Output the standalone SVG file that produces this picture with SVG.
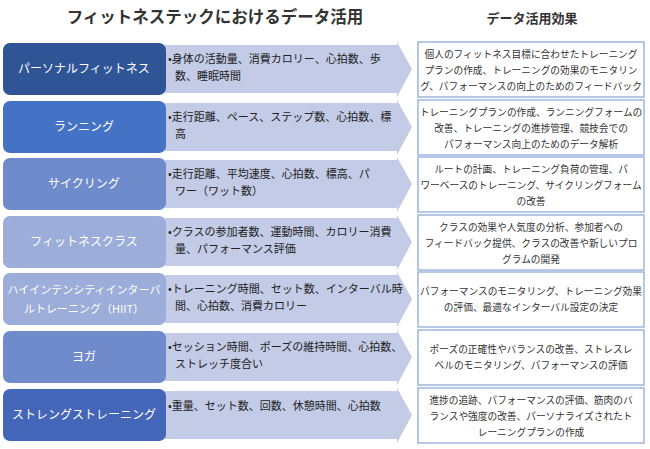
<svg xmlns="http://www.w3.org/2000/svg" width="650" height="449" viewBox="0 0 650 449">
<style>
text{font-family:"Noto Sans CJK JP","Liberation Sans",sans-serif}
.t{font-size:16.5px;font-weight:bold;fill:#333}
.n{font-size:12px;fill:#fff}
.a{fill:#C3CBE6}
.d{font-size:11px;fill:#222}
.r{fill:#fff;stroke:#8FAADC;stroke-width:1.3}
.e{font-size:9.7px;fill:#333}
</style>
<rect width="650" height="449" fill="#fff"/>
<text class="t" x="215" y="23" text-anchor="middle">フィットネステックにおけるデータ活用</text>
<text class="t" x="532" y="23" text-anchor="middle" style="font-size:13px">データ活用効果</text>
<g id="connectors">
<polygon class="a" points="165,45 397,45 397,42 412,69 397,97 397,93 165,93"/>
<polygon class="a" points="165,103 397,103 397,100 412,127 397,155 397,151 165,151"/>
<polygon class="a" points="165,160 397,160 397,157 412,184 397,212 397,208 165,208"/>
<polygon class="a" points="165,218 397,218 397,215 412,242 397,270 397,266 165,266"/>
<polygon class="a" points="165,275 397,275 397,272 412,299 397,327 397,323 165,323"/>
<polygon class="a" points="165,333 397,333 397,330 412,357 397,385 397,381 165,381"/>
<polygon class="a" points="165,391 397,391 397,388 412,415 397,443 397,439 165,439"/>
</g>
<g id="row1"><rect x="3" y="43" width="163" height="52" rx="7" fill="#2F5597"/><text class="n" x="84" y="73" text-anchor="middle">パーソナルフィットネス</text>
<text class="d" x="168" y="63">•身体の活動量、消費カロリー、心拍数、歩</text><text class="d" x="175" y="80">数、睡眠時間</text>
<rect class="r" x="418" y="42" width="226" height="55"/><text class="e" x="531" y="58" text-anchor="middle">個人のフィットネス目標に合わせたトレーニング</text><text class="e" x="531" y="74" text-anchor="middle">プランの作成、トレーニングの効果のモニタリン</text><text class="e" x="531" y="90" text-anchor="middle">グ、パフォーマンスの向上のためのフィードバック</text></g>
<g id="row2"><rect x="3" y="101" width="163" height="52" rx="7" fill="#4472C4"/><text class="n" x="84" y="131" text-anchor="middle">ランニング</text>
<text class="d" x="168" y="121">•走行距離、ペース、ステップ数、心拍数、標</text><text class="d" x="175" y="138">高</text>
<rect class="r" x="418" y="100" width="226" height="55"/><text class="e" x="531" y="116" text-anchor="middle">トレーニングプランの作成、ランニングフォームの</text><text class="e" x="531" y="132" text-anchor="middle">改善、トレーニングの進捗管理、競技会での</text><text class="e" x="531" y="148" text-anchor="middle">パフォーマンス向上のためのデータ解析</text></g>
<g id="row3"><rect x="3" y="158" width="163" height="52" rx="7" fill="#6F8BCB"/><text class="n" x="84" y="188" text-anchor="middle">サイクリング</text>
<text class="d" x="168" y="178">•走行距離、平均速度、心拍数、標高、パ</text><text class="d" x="175" y="195">ワー（ワット数）</text>
<rect class="r" x="418" y="157" width="226" height="55"/><text class="e" x="531" y="173" text-anchor="middle">ルートの計画、トレーニング負荷の管理、パ</text><text class="e" x="531" y="189" text-anchor="middle">ワーベースのトレーニング、サイクリングフォーム</text><text class="e" x="531" y="205" text-anchor="middle">の改善</text></g>
<g id="row4"><rect x="3" y="216" width="163" height="52" rx="7" fill="#9DADDA"/><text class="n" x="84" y="246" text-anchor="middle">フィットネスクラス</text>
<text class="d" x="168" y="236">•クラスの参加者数、運動時間、カロリー消費</text><text class="d" x="175" y="253">量、パフォーマンス評価</text>
<rect class="r" x="418" y="215" width="226" height="55"/><text class="e" x="531" y="231" text-anchor="middle">クラスの効果や人気度の分析、参加者への</text><text class="e" x="531" y="247" text-anchor="middle">フィードバック提供、クラスの改善や新しいプロ</text><text class="e" x="531" y="263" text-anchor="middle">グラムの開発</text></g>
<g id="row5"><rect x="3" y="273" width="163" height="52" rx="7" fill="#9DADDA"/><text class="n" x="84" y="294" text-anchor="middle" style="font-size:11px">ハイインテンシティインターバ</text><text class="n" x="84" y="313" text-anchor="middle" style="font-size:11px">ルトレーニング（HIIT）</text>
<text class="d" x="168" y="293">•トレーニング時間、セット数、インターバル時</text><text class="d" x="175" y="310">間、心拍数、消費カロリー</text>
<rect class="r" x="418" y="272" width="226" height="55"/><text class="e" x="531" y="295" text-anchor="middle">パフォーマンスのモニタリング、トレーニング効果</text><text class="e" x="531" y="311" text-anchor="middle">の評価、最適なインターバル設定の決定</text></g>
<g id="row6"><rect x="3" y="331" width="163" height="52" rx="7" fill="#6F8BCB"/><text class="n" x="84" y="361" text-anchor="middle">ヨガ</text>
<text class="d" x="168" y="351">•セッション時間、ポーズの維持時間、心拍数、</text><text class="d" x="175" y="368">ストレッチ度合い</text>
<rect class="r" x="418" y="330" width="226" height="55"/><text class="e" x="531" y="353" text-anchor="middle">ポーズの正確性やバランスの改善、ストレスレ</text><text class="e" x="531" y="369" text-anchor="middle">ベルのモニタリング、パフォーマンスの評価</text></g>
<g id="row7"><rect x="3" y="389" width="163" height="52" rx="7" fill="#4466B8"/><text class="n" x="84" y="419" text-anchor="middle">ストレングストレーニング</text>
<text class="d" x="168" y="410">•重量、セット数、回数、休憩時間、心拍数</text>
<rect class="r" x="418" y="388" width="226" height="55"/><text class="e" x="531" y="404" text-anchor="middle">進捗の追跡、パフォーマンスの評価、筋肉のバ</text><text class="e" x="531" y="420" text-anchor="middle">ランスや強度の改善、パーソナライズされたト</text><text class="e" x="531" y="436" text-anchor="middle">レーニングプランの作成</text></g>
</svg>
